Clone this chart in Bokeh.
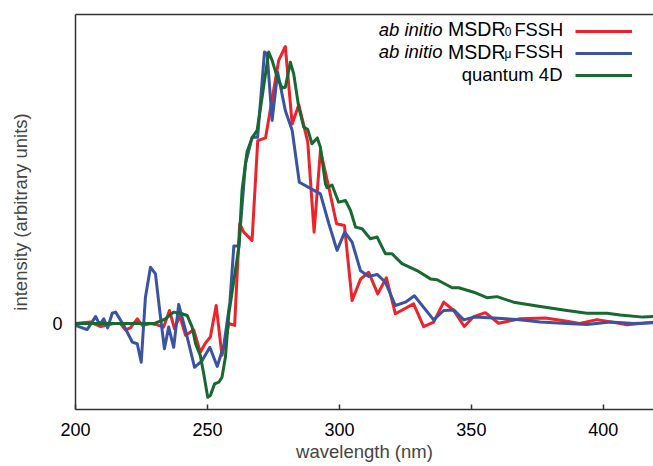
from bokeh.plotting import figure
from bokeh.models import (Range1d, FixedTicker, LinearAxis, Label, Legend, LegendItem)
from bokeh.embed import file_html
from bokeh.resources import INLINE

# ---- data ----
red_wl = [200, 205.7, 209.5, 214.5, 217, 218.9, 220.8, 223.4, 225.3, 228.4, 230.9, 233.4,
          235.6, 237.5, 239.5, 241.7, 244.8, 247.3, 249.2, 251.1, 253.3, 255.5, 258.1, 260.3,
          262.2, 263.75, 266.9, 269.05, 272.0, 277.0, 279.5, 282.1, 284.6, 288.0, 290.4,
          292.8, 296.0, 298.9, 301.9, 304.8, 308.0, 311.1, 314.5, 317.8, 321.2, 328.1, 331.9,
          335.7, 339.5, 343.3, 347.3, 350.9, 355.3, 360.3, 368.6, 378.0, 386.2, 391.0, 397.6,
          406.4, 409.0, 419.0, 425.0]
red_val = [0, 0.005, -0.011, 0, 0, -0.023, -0.016, 0.017, -0.007, 0, -0.005, -0.013,
           0.047, -0.019, 0.029, -0.043, -0.023, -0.104, -0.071, -0.049, 0.065, -0.115, 0, -0.007,
           0.36, 0.33, 0.30, 0.66, 0.67, 0.95, 1.0, 0.72, 0.79, 0.655, 0.33,
           0.625, 0.49, 0.36, 0.354, 0.083, 0.16, 0.185, 0.107, 0.165, 0.035, 0.071, -0.011,
           0.005, 0.077, 0.047, -0.011, 0.025, 0.039, 0.001, 0.017, 0.02, 0.008, 0.0, 0.014,
           0, -0.005, 0.005, 0.004]

blue_wl = [200, 204.4, 207.6, 209.2, 210.7, 212.2, 213.9, 215.2, 218.3, 221.5, 223.4, 224.9,
           226.5, 228.4, 230.3, 231.9, 233.7, 235.3, 237.2, 239.1, 241.7, 245.1, 248.0, 250.9,
           253.7, 256.2, 258.5, 260.0, 261.9, 264.4, 266.9, 269.0, 271.6, 272.6, 274.5, 276.6,
           279.5, 282.1, 284.8, 292.8, 296.0, 299.1, 302.0, 304.8, 308.0, 311.1, 314.3, 317.4,
           321.2, 325.0, 328.4, 335.7, 339.5, 343.3, 347.1, 350.9, 358.4, 367.3, 376.1, 386.2,
           393.8, 402.6, 411.5, 419.0, 425.0]
blue_val = [-0.007, -0.022, 0.025, -0.004, 0.017, -0.016, 0.037, 0.041, -0.007, -0.067, -0.073, -0.14,
            0.095, 0.203, 0.179, 0.047, -0.091, -0.013, -0.086, 0.069, -0.025, -0.158, -0.134, -0.086,
            -0.155, -0.079, 0.077, 0.28, 0.28, 0.577, 0.672, 0.672, 0.98, 0.974, 0.733, 0.907,
            0.769, 0.697, 0.51, 0.468, 0.36, 0.264, 0.33, 0.294, 0.19, 0.17, 0.177, 0.149,
            0.065, 0.077, 0.1, 0.013, 0.047, 0.049, 0.013, 0.023, 0.02, 0.014, 0.005, 0,
            -0.004, 0.005, 0, 0.003, 0.002]

green_wl = [200, 230, 234.1, 237.2, 239.8, 242.3, 244.2, 245.5, 247.3, 248.6, 250.1, 251.1,
            252.7, 254.3, 255.5, 256.8, 258.1, 260.0, 261.9, 263.1, 265.0, 266.9, 268.8, 270.7,
            273.2, 274.5, 276.4, 278.3, 279.5, 281.4, 282.7, 284.6, 286.5, 288.0, 289.6, 291.6,
            292.8, 294.7, 295.3, 297.2, 299.7, 302.3, 304.2, 306.1, 308.6, 311.7, 314.3, 317.4,
            319.9, 323.7, 329.4, 334.5, 337.0, 342.7, 345.2, 350.9, 355.9, 359.7, 366.0, 376.1,
            386.2, 393.8, 401.4, 406.4, 415.0, 419.0, 425.0]
green_val = [0, 0, 0.017, 0.041, 0.037, 0.029, -0.013, -0.073, -0.116, -0.182, -0.266, -0.26,
             -0.218, -0.212, -0.194, -0.122, 0.035, 0.155, 0.275, 0.48, 0.62, 0.67, 0.697, 0.817,
             0.98, 0.95, 0.89, 0.85, 0.853, 0.943, 0.9, 0.78, 0.709, 0.7, 0.649, 0.67,
             0.636, 0.504, 0.49, 0.5, 0.438, 0.444, 0.408, 0.348, 0.342, 0.306, 0.312, 0.252,
             0.252, 0.216, 0.191, 0.161, 0.158, 0.129, 0.129, 0.113, 0.093, 0.097, 0.077, 0.061,
             0.047, 0.037, 0.037, 0.031, 0.023, 0.025, 0.024]

x_ticks = [200, 250, 300, 350, 400]
y_ticks = [0]

RED = "#EE2228"
BLUE = "#3A54A4"
GREEN = "#17692F"
FONT = "Liberation Sans"

X0, X1 = 200, 419
Y0, Y1 = -0.3105, 1.1155

p = figure(width=653, height=466, output_backend="svg", toolbar_location=None,
           x_range=Range1d(X0, X1), y_range=Range1d(Y0, Y1),
           min_border_left=75, min_border_right=0, min_border_top=14, min_border_bottom=57)
p.outline_line_color = None
p.xgrid.visible = False
p.ygrid.visible = False
p.background_fill_color = "white"
p.border_fill_color = "white"

r_red = p.line(red_wl, red_val, line_color=RED, line_width=3, line_join="round")
r_blue = p.line(blue_wl, blue_val, line_color=BLUE, line_width=3, line_join="round")
r_green = p.line(green_wl, green_val, line_color=GREEN, line_width=3, line_join="round")

AX = "#333333"
xa = p.xaxis[0]
xa.ticker = FixedTicker(ticks=x_ticks)
xa.minor_tick_line_color = None
xa.major_tick_in = 5
xa.major_tick_out = 0
xa.axis_line_width = 1.5
xa.axis_line_color = AX
xa.major_tick_line_color = AX
xa.major_tick_line_width = 1.5
xa.major_label_text_font = FONT
xa.major_label_text_font_size = "18px"
xa.major_label_text_color = "black"
xa.major_label_standoff = 13
xa.axis_label = "wavelength (nm)"
xa.axis_label_text_font = FONT
xa.axis_label_text_font_size = "18.5px"
xa.axis_label_text_font_style = "normal"
xa.axis_label_standoff = 2

ya = p.yaxis[0]
ya.ticker = FixedTicker(ticks=y_ticks)
ya.minor_tick_line_color = None
ya.major_tick_in = 0
ya.major_tick_out = 0
ya.axis_line_width = 1.5
ya.axis_line_color = AX
ya.major_label_text_font = FONT
ya.major_label_text_font_size = "18px"
ya.major_label_text_color = "black"
ya.major_label_standoff = 13
ya.axis_label = "intensity (arbitrary units)"
ya.axis_label_text_font = FONT
ya.axis_label_text_font_size = "18.5px"
ya.axis_label_text_font_style = "normal"
ya.axis_label_standoff = 18

top = LinearAxis(ticker=FixedTicker(ticks=[]), major_label_text_font_size="0px",
                 major_tick_in=0, major_tick_out=0, minor_tick_line_color=None,
                 axis_line_width=1.5, axis_line_color=AX)
p.add_layout(top, "above")

# legend: empty-labelled line samples, with text drawn to their left
legend = Legend(items=[LegendItem(label=" ", renderers=[r_red]),
                       LegendItem(label=" ", renderers=[r_blue]),
                       LegendItem(label=" ", renderers=[r_green])],
                location=(500, 324), glyph_width=57, glyph_height=20, label_height=20,
                label_width=1, label_standoff=0, label_text_font_size="1px",
                spacing=2, padding=0, margin=0, border_line_color=None,
                background_fill_alpha=0)
p.add_layout(legend, "center")

# page coordinates -> data coordinates (for text placement)
def dx(px):
    return X0 + (px - 75) * (X1 - X0) / 578.0

def dy(py):
    return Y1 - (py - 14) * (Y1 - Y0) / 395.0

def lab(text, px, py, size="18px", style="normal", align="right"):
    p.add_layout(Label(x=dx(px), y=dy(py), text=text, text_align=align,
                       text_baseline="alphabetic", text_font=FONT,
                       text_font_size=size, text_font_style=style, text_color="black"))

rows = [(28.7, "0"), (51.0, "\u03bc")]
for base, sub in rows:
    lab("FSSH", 562.7, base, size="18.3px")
    lab(sub, 511, base + 2.0, size="12px")
    lab("MSDR", 505, base, size="19.5px")
    lab("ab initio", 442, base, size="18.5px", style="italic")
lab("quantum 4D", 562, 73.7, size="18.5px")

open("out.html", "w").write(file_html(p, INLINE))
